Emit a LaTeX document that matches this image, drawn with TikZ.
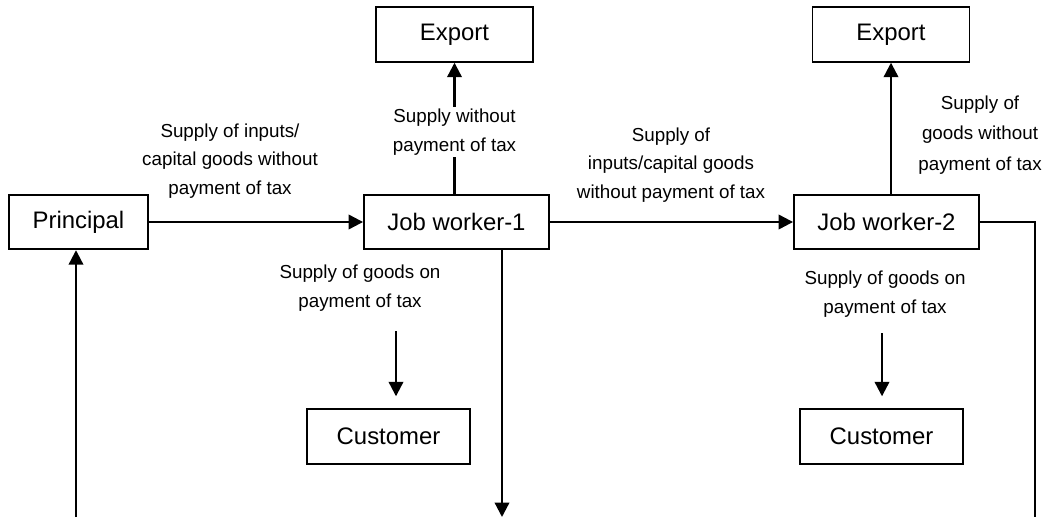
\documentclass[tikz,border=0pt]{standalone}
\usepackage{fontspec}
\setmainfont{Liberation Sans}
\usetikzlibrary{arrows.meta}
\begin{document}
\begin{tikzpicture}[x=0.02cm,y=-0.02cm,
  box/.style={draw,line width=1.1pt,minimum height=1.09cm,inner sep=0pt,font=\fontsize{13.6}{16}\selectfont},
  lbl/.style={align=center,inner sep=1pt,font=\fontsize{10.7}{16.4}\selectfont},
  arr/.style={line width=1.3pt,-{Triangle[length=0.29cm,width=0.29cm]}},
  wire/.style={line width=1.3pt}]
\useasboundingbox (0,0) rectangle (1047,517);
\node[box,minimum width=2.78cm] (prin) at (78.5,222) {Principal};
\node[box,minimum width=3.7cm] (jw1) at (456.5,222) {Job worker-1};
\node[box,minimum width=3.7cm] (jw2) at (886.5,222) {Job worker-2};
\node[box,minimum width=3.14cm] (exp1) at (454.5,34.5) {Export};
\node[box,minimum width=3.14cm] (exp2) at (891,34.5) {Export};
\node[box,minimum width=3.26cm] (cust1) at (388.5,436.5) {Customer};
\node[box,minimum width=3.26cm] (cust2) at (881.5,436.5) {Customer};
\node[lbl] (lprin) at (230,161) {Supply of inputs/\\capital goods without\\payment of tax};
\node[lbl] (ljw) at (671,165) {Supply of\\inputs/capital goods\\without payment of tax};
\node[lbl,font=\fontsize{10.7}{17.5}\selectfont] (lexp2) at (980,135) {Supply of\\goods without\\payment of tax};
\node[lbl] (lcust1) at (360,288) {Supply of goods on\\payment of tax};
\node[lbl] (lcust2) at (885,294) {Supply of goods on\\payment of tax};
\coordinate (c1) at (396,331);
\coordinate (c2) at (882,333);
\coordinate (down1) at (502,517);
\coordinate (down2) at (1035,517);
\coordinate (up0) at (76,517);
\draw[arr] (prin) -- (jw1);
\draw[arr] (jw1) -- (jw2);
\draw[arr] (jw1.north -| exp1) -- node[lbl,fill=white,pos=0.47] (lexp1) {Supply without\\payment of tax} (exp1.south);
\draw[arr] (jw2.north -| exp2) -- (exp2.south);
\draw[arr] (c1) -- ([yshift=0.24cm]cust1.north -| c1);
\draw[arr] (c2) -- ([yshift=0.24cm]cust2.north -| c2);
\draw[arr] (jw1.south -| down1) -- (down1);
\draw[arr] (up0) -- (up0 |- prin.south);
\draw[wire] (jw2.east) -| (down2);
\end{tikzpicture}
\end{document}
